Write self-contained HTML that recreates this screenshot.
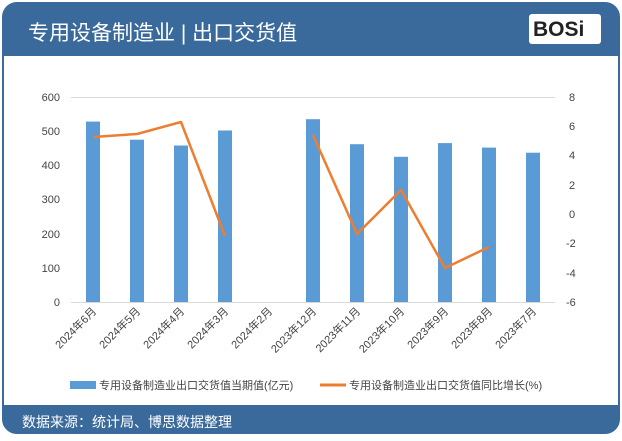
<!DOCTYPE html>
<html><head><meta charset="utf-8"><style>
body{margin:0;background:#fff;}
.f{font-family:"Liberation Sans","Noto Sans CJK SC",sans-serif;}
</style></head><body>
<svg width="622" height="436" xmlns="http://www.w3.org/2000/svg" class="f">
<rect x="3" y="3" width="616" height="430" rx="14" fill="#fff" stroke="#3a6a9c" stroke-width="2"/>
<path d="M3 17 Q3 3 17 3 L605 3 Q619 3 619 17 L619 56 L3 56 Z" fill="#3a6a9c"/>
<path d="M3 405 L619 405 L619 419 Q619 433 605 433 L17 433 Q3 433 3 419 Z" fill="#3a6a9c"/>
<text x="28" y="40" font-size="21" fill="#fff">专用设备制造业 | 出口交货值</text>
<rect x="529" y="14" width="72" height="30" rx="3" fill="#fff"/>
<text x="533" y="36" font-size="21" font-weight="bold" fill="#222">BOSi</text>
<text x="22" y="427" font-size="14" fill="#fff">数据来源：统计局、博思数据整理</text>
<g stroke="#d9d9d9" stroke-width="1">
<line x1="71" y1="97.5" x2="555" y2="97.5"/>
<line x1="71" y1="302.5" x2="555" y2="302.5"/>
</g>
<g font-size="11" fill="#444" text-anchor="end">
<text x="60" y="101">600</text><text x="60" y="135">500</text><text x="60" y="169">400</text><text x="60" y="203">300</text><text x="60" y="238">200</text><text x="60" y="272">100</text><text x="60" y="306">0</text>
</g>
<g font-size="11" fill="#444" text-anchor="start">
<text x="569" y="101">8</text><text x="569" y="130">6</text><text x="569" y="159">4</text><text x="569" y="189">2</text><text x="569" y="218">0</text><text x="566" y="247">-2</text><text x="566" y="277">-4</text><text x="566" y="306">-6</text>
</g>
<g fill="#5b9bd5">
<rect x="86" y="121.6" width="14" height="180.4"/>
<rect x="130" y="139.7" width="14" height="162.3"/>
<rect x="174" y="145.5" width="14" height="156.5"/>
<rect x="218" y="130.5" width="14" height="171.5"/>
<rect x="306" y="119.2" width="14" height="182.8"/>
<rect x="350" y="144.2" width="14" height="157.8"/>
<rect x="394" y="156.8" width="14" height="145.2"/>
<rect x="438" y="143.1" width="14" height="158.9"/>
<rect x="482" y="147.6" width="14" height="154.4"/>
<rect x="526" y="152.7" width="14" height="149.3"/>
</g>
<g fill="none" stroke="#ed7d31" stroke-width="2.5" stroke-linejoin="round">
<polyline points="93,137 137,134 181,122 225,236"/>
<polyline points="313,135 357,234 401,190 445,268 489,247"/>
</g>
<g font-size="11" fill="#444" text-anchor="end">
<text transform="translate(97,312) rotate(-45)">2024年6月</text>
<text transform="translate(141,312) rotate(-45)">2024年5月</text>
<text transform="translate(185,312) rotate(-45)">2024年4月</text>
<text transform="translate(229,312) rotate(-45)">2024年3月</text>
<text transform="translate(273,312) rotate(-45)">2024年2月</text>
<text transform="translate(317,312) rotate(-45)">2023年12月</text>
<text transform="translate(361,312) rotate(-45)">2023年11月</text>
<text transform="translate(405,312) rotate(-45)">2023年10月</text>
<text transform="translate(449,312) rotate(-45)">2023年9月</text>
<text transform="translate(493,312) rotate(-45)">2023年8月</text>
<text transform="translate(537,312) rotate(-45)">2023年7月</text>
</g>
<rect x="70" y="381" width="26" height="8" fill="#5b9bd5"/>
<text x="99" y="389" font-size="11" fill="#444">专用设备制造业出口交货值当期值(亿元)</text>
<line x1="320" y1="385" x2="346" y2="385" stroke="#ed7d31" stroke-width="3"/>
<text x="349" y="389" font-size="11" fill="#444">专用设备制造业出口交货值同比增长(%)</text>
</svg>
</body></html>
